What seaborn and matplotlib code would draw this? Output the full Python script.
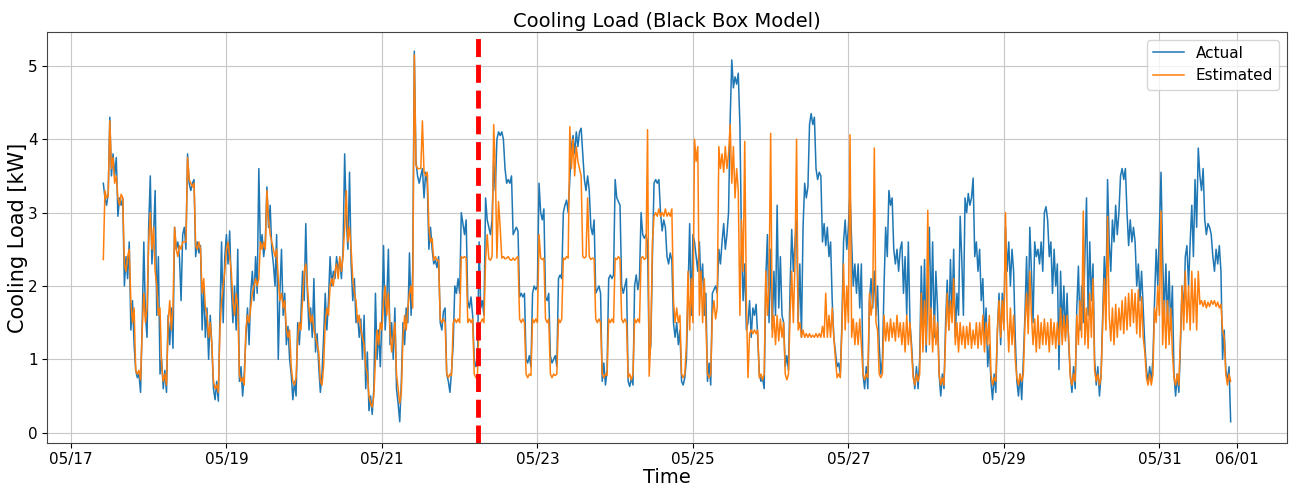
import pandas as pd
import matplotlib
matplotlib.use("Agg")
import matplotlib.pyplot as plt
import matplotlib.dates as mdates
import seaborn as sns

# ---- data (30-minute samples) ----
START = "2021-05-17 10:00"
STEP = "30min"
SPLIT_TIME = "2021-05-22 05:40"   # end of training period (red dashed line)

actual_0517 = [3.4, 3.2, 3.1, 3.25, 4.3, 3.5, 3.8, 3.5, 3.75, 2.95, 3.2, 3.1, 3.2,
               2.0, 2.4, 2.1, 2.6, 1.4, 1.8, 1.2, 0.85, 0.75, 0.8, 0.55, 1.5, 2.6, 1.6, 1.3,
               2.8, 3.5, 2.3, 2.7, 3.3, 1.6, 2.4, 0.8, 1.0, 0.6, 0.85, 0.55, 1.6, 1.2, 1.7,
               1.15, 2.8, 2.5, 2.6, 2.4, 1.8, 2.7, 2.8, 2.5, 3.8, 3.4, 3.3, 3.4, 3.45, 2.4,
               2.6, 2.45, 2.55, 1.4, 2.0, 1.3, 1.7, 1.0, 1.6, 1.2, 0.6, 0.45, 0.7, 0.43,
               1.6, 2.6, 1.5, 2.4, 2.7, 2.3, 2.75, 2.0, 1.5, 2.0, 1.4, 2.5, 0.7, 0.9, 0.5,
               0.8, 1.3, 1.7, 1.2, 1.9, 2.2, 1.8, 2.4, 1.9, 3.6]
estimated_0517 = [2.36, 3.3, 3.2, 3.22, 4.25, 3.6, 3.75, 3.4, 3.5, 3.2, 3.1, 3.25, 3.2,
                  2.3, 2.2, 2.4, 2.5, 1.8, 1.5, 1.7, 0.85, 0.8, 0.85, 0.72, 1.4, 1.9, 1.5,
                  1.7, 2.6, 3.0, 2.5, 2.8, 2.2, 2.0, 1.6, 1.7, 0.9, 0.7, 0.8, 0.65, 1.5, 1.8,
                  1.4, 1.7, 2.8, 2.5, 2.4, 2.55, 2.5, 2.6, 2.6, 2.6, 3.75, 3.45, 3.4, 3.35,
                  3.4, 2.55, 2.5, 2.6, 2.5, 1.9, 2.1, 1.7, 1.6, 1.3, 1.5, 1.2, 0.7, 0.6,
                  0.65, 0.55, 1.4, 1.8, 2.0, 2.2, 2.5, 2.6, 2.4, 2.2, 1.8, 1.6, 1.9, 1.7,
                  0.8, 0.7, 0.75, 0.65, 1.4, 1.6, 1.5, 1.7, 1.9, 2.0, 2.1, 2.0, 2.1]

actual_0519 = [2.5, 2.7, 2.4, 2.6, 3.35, 2.8, 3.1, 2.5, 2.3, 2.0,
               2.7, 1.0, 1.9, 2.5, 1.6, 1.9, 1.2, 1.45, 1.0, 0.8,
               0.45, 0.7, 0.5, 1.5, 1.2, 1.6, 2.2, 1.8, 2.85, 1.9,
               1.4, 1.7, 1.3, 2.1, 1.1, 1.35, 0.9, 0.55, 0.8, 1.3,
               1.9, 1.4, 1.8, 2.4, 2.0, 2.2, 2.1, 2.4, 2.2, 2.35,
               2.1, 2.5, 3.8, 2.9, 2.5, 3.55, 2.3, 1.8, 2.1, 1.5,
               1.6, 1.3, 1.55, 1.0, 1.6, 0.6, 1.1, 0.3, 0.5, 0.25,
               0.6, 1.9, 1.0, 1.4, 0.9, 1.6, 2.55, 1.4, 1.8, 2.5,
               1.2, 1.5, 1.0, 1.7, 0.6, 0.4, 0.15, 0.7, 1.5, 1.2,
               1.7, 1.5, 2.45, 1.6, 2.2, 5.2, 3.7, 3.5, 3.4]
estimated_0519 = [2.6, 2.5, 2.6, 2.5, 3.3, 2.9, 2.7, 2.6, 2.5, 2.4,
                  2.5, 2.1, 1.8, 1.9, 1.7, 1.8, 1.4, 1.3, 1.4, 0.9,
                  0.7, 0.65, 0.75, 1.3, 1.5, 1.4, 1.8, 2.2, 2.3, 2.0,
                  1.7, 1.5, 1.6, 1.4, 1.3, 1.2, 1.1, 0.7, 0.65, 0.9,
                  1.5, 1.7, 1.6, 2.0, 2.1, 2.0, 2.2, 2.3, 2.1, 2.4,
                  2.2, 2.4, 2.8, 3.3, 2.6, 2.8, 2.5, 2.1, 1.9, 1.8,
                  1.5, 1.6, 1.4, 1.3, 1.2, 0.9, 0.8, 0.5, 0.4, 0.35,
                  0.5, 1.0, 1.4, 1.2, 1.5, 1.4, 1.8, 2.0, 1.6, 1.9,
                  1.4, 1.1, 1.3, 1.5, 0.8, 0.6, 0.4, 0.55, 1.3, 1.6,
                  1.4, 1.7, 1.9, 2.0, 1.7, 5.15, 3.65, 3.6, 3.6]

actual_0521 = [3.5, 3.6, 3.2, 3.55, 3.4, 2.5, 2.8, 2.5, 2.3, 2.35,
               2.25, 2.4, 1.5, 1.4, 1.65, 1.7, 0.8, 0.7, 0.55, 0.85,
               1.2, 2.0, 1.9, 2.1, 1.9, 3.0, 2.85, 2.7, 2.9, 1.8,
               1.7, 1.85, 1.6, 1.0, 0.9, 0.95, 2.6, 1.7, 1.8, 1.6,
               3.2, 2.9, 2.8, 2.7, 2.9, 3.7, 3.3, 4.0, 4.1, 4.05,
               4.1, 4.0, 3.6, 3.4, 3.45, 3.4, 3.5, 2.7, 2.75, 2.8,
               2.75, 1.85, 1.9, 1.85, 1.9, 1.0, 0.95, 1.05, 0.9, 1.9,
               2.0, 1.95, 2.0, 3.4, 3.0, 2.9, 3.05, 1.85, 1.8, 1.9,
               1.05, 0.95, 1.0, 1.05, 0.9, 2.1, 2.15, 2.1, 3.0, 3.1,
               3.17, 3.0, 3.45, 3.9, 4.05, 3.8, 4.1, 3.9, 4.1]
estimated_0521 = [3.6, 4.25, 3.55, 3.5, 3.55, 2.8, 2.6, 2.65, 2.35, 2.4,
                  2.35, 2.35, 1.55, 1.5, 1.55, 1.5, 0.8, 0.75, 0.8, 0.78,
                  1.5, 1.55, 1.5, 1.55, 1.5, 2.4, 2.38, 2.4, 2.38, 1.5,
                  1.55, 1.5, 1.55, 0.8, 0.75, 0.8, 1.5, 1.5, 1.55, 1.5,
                  2.36, 2.7, 2.37, 2.35, 2.4, 4.2, 3.6, 2.38, 3.15, 2.8,
                  2.38, 2.4, 2.37, 2.38, 2.4, 2.36, 2.35, 2.38, 2.35, 2.38,
                  2.4, 1.55, 1.5, 1.55, 1.5, 0.8, 0.75, 0.8, 0.78, 1.55,
                  1.5, 1.55, 1.5, 2.7, 2.38, 2.36, 2.38, 1.55, 1.5, 1.55,
                  0.8, 0.75, 0.8, 0.78, 0.8, 1.55, 1.5, 1.55, 2.38, 2.36,
                  2.4, 2.38, 4.17, 3.6, 4.0, 3.5, 3.9, 3.7, 3.6]

actual_0523 = [4.15, 3.8, 3.45, 3.3, 3.5, 3.3, 2.8, 2.7, 2.9, 1.9,
               1.95, 2.0, 1.9, 0.7, 0.95, 0.65, 0.85, 2.1, 2.15, 2.1,
               2.15, 3.45, 3.2, 3.15, 3.1, 2.0, 1.9, 2.0, 2.1, 0.7,
               0.63, 0.75, 0.65, 2.0, 2.15, 1.95, 2.1, 3.0, 2.7, 2.65,
               2.7, 2.6, 1.0, 1.2, 2.4, 3.4, 3.45, 3.4, 3.45, 3.0,
               2.75, 2.9, 2.8, 2.4, 2.3, 2.45, 2.35, 1.5, 1.3, 1.5,
               1.2, 1.4, 0.7, 0.65, 0.75, 1.0, 1.9, 2.85, 1.6, 2.7,
               2.6, 2.4, 2.2, 2.6, 2.0, 2.3, 1.6, 1.9, 0.7, 0.95,
               0.65, 1.9, 1.95, 2.0, 1.9, 2.5, 2.3, 2.6, 2.85, 2.5,
               2.7, 3.0, 4.27, 5.08, 4.7, 4.85, 4.75, 4.9, 4.2]
estimated_0523 = [3.5, 2.4, 2.38, 2.4, 3.2, 2.4, 2.36, 2.38, 2.37, 1.55,
                  1.5, 1.55, 1.5, 0.8, 0.75, 0.8, 0.78, 1.55, 1.5, 1.55,
                  1.5, 2.38, 2.36, 2.4, 2.37, 1.55, 1.5, 1.55, 1.5, 0.75,
                  0.8, 0.72, 0.8, 1.55, 1.5, 1.55, 1.5, 2.38, 2.4, 2.36,
                  2.38, 4.13, 0.77, 1.27, 2.6, 2.95, 3.0, 2.95, 3.05, 2.95,
                  3.0, 2.95, 3.05, 2.95, 3.0, 2.95, 3.05, 1.8, 1.5, 1.7,
                  1.5, 1.6, 0.8, 0.75, 0.8, 1.2, 2.2, 1.4, 2.1, 1.5,
                  4.0, 3.7, 3.9, 1.6, 2.2, 1.5, 2.1, 1.5, 0.8, 0.75,
                  0.8, 1.6, 1.8, 1.55, 1.7, 3.9, 3.6, 3.8, 3.55, 3.9,
                  3.6, 3.8, 4.2, 3.4, 3.9, 3.2, 3.6, 3.3, 1.6]

actual_0525 = [2.6, 1.8, 2.3, 1.4, 1.5, 1.8, 1.3, 1.7, 1.6, 1.75,
               1.3, 0.8, 0.7, 0.75, 0.6, 2.1, 2.7, 1.5, 2.5, 1.4,
               2.2, 1.6, 3.1, 1.7, 2.4, 1.6, 1.5, 0.9, 1.05, 0.85,
               2.0, 2.77, 2.2, 2.6, 2.9, 1.5, 2.3, 1.3, 2.8, 3.4,
               3.2, 3.35, 4.2, 4.35, 4.2, 4.3, 3.6, 3.45, 3.55, 3.5,
               2.6, 2.85, 2.55, 2.8, 2.4, 2.6, 1.8, 1.3, 1.1, 0.9,
               0.95, 0.8, 1.5, 2.6, 2.9, 2.5, 2.8, 3.3, 2.6, 2.0,
               2.3, 1.9, 2.3, 1.7, 2.3, 0.8, 0.6, 0.9, 0.6, 1.8,
               2.1, 1.7, 2.2, 1.6, 2.0, 1.2, 0.8, 1.0, 2.0, 2.8,
               2.4, 3.3, 3.1, 3.2, 2.5, 2.3, 2.5, 2.2, 2.5]
estimated_0525 = [2.9, 2.2, 3.97, 1.8, 0.75, 1.35, 1.4, 1.35, 1.4, 1.35,
                  1.4, 0.75, 0.8, 0.72, 0.8, 2.2, 1.6, 2.0, 4.08, 1.3,
                  1.6, 1.2, 1.6, 1.25, 1.55, 1.3, 1.5, 0.8, 0.72, 0.8,
                  1.6, 2.2, 1.5, 2.3, 4.0, 1.4, 1.5, 1.3, 1.4, 1.3,
                  1.35, 1.3, 1.35, 1.3, 1.33, 1.3, 1.35, 1.3, 1.35, 1.3,
                  1.45, 1.3, 1.9, 1.3, 1.6, 1.3, 1.7, 1.3, 1.0, 0.75,
                  0.8, 0.75, 1.4, 2.3, 1.4, 2.0, 1.5, 4.06, 1.3, 1.55,
                  1.2, 1.5, 1.2, 1.55, 1.2, 0.8, 0.72, 0.8, 0.75, 1.9,
                  1.6, 1.8, 3.88, 1.5, 1.4, 0.8, 0.75, 0.8, 1.6, 1.25,
                  1.5, 1.25, 1.55, 1.3, 1.5, 1.25, 1.6, 1.3, 1.5]

actual_0527 = [2.6, 1.9, 2.4, 1.6, 2.6, 1.5, 1.2, 0.8, 0.6, 0.9,
               0.6, 1.0, 2.27, 1.4, 2.36, 1.1, 2.0, 2.8, 1.6, 2.6,
               1.3, 2.2, 1.7, 0.8, 0.5, 0.8, 0.6, 1.5, 2.08, 1.4,
               2.36, 1.6, 2.5, 1.3, 1.9, 1.6, 2.95, 2.36, 1.6, 3.2,
               3.0, 3.26, 3.1, 3.2, 3.47, 2.4, 2.6, 2.2, 2.5, 1.8,
               2.1, 1.3, 1.7, 0.9, 1.2, 0.7, 0.45, 0.8, 0.55, 1.4,
               1.9, 1.2, 1.9, 1.5, 2.8, 2.2, 2.6, 2.0, 2.5, 2.2,
               1.3, 0.7, 0.5, 0.8, 0.45, 1.0, 1.6, 2.4, 1.5, 2.8,
               2.2, 1.5, 2.6, 2.4, 2.5, 2.3, 2.6, 2.2, 3.0, 3.08,
               2.9, 2.4, 2.6, 1.9, 2.5, 2.0, 2.3, 0.86]
estimated_0527 = [1.2, 1.5, 1.1, 1.6, 1.2, 1.5, 1.1, 0.75, 0.65, 0.8,
                  0.7, 0.8, 1.9, 1.1, 1.8, 1.2, 3.03, 1.2, 1.7, 1.1,
                  1.6, 1.2, 1.5, 0.8, 0.65, 0.75, 0.65, 1.3, 1.9, 1.4,
                  1.8, 1.5, 2.1, 1.2, 1.5, 1.1, 1.5, 1.2, 1.45, 1.15,
                  1.45, 1.2, 1.5, 1.15, 1.4, 1.2, 1.5, 1.15, 1.5, 1.2,
                  1.6, 1.1, 1.5, 1.2, 1.6, 0.8, 0.65, 0.75, 0.7, 1.4,
                  1.8, 1.3, 1.8, 1.4, 3.0, 1.6, 1.1, 1.7, 1.2, 1.6,
                  1.0, 0.75, 0.65, 0.8, 0.7, 0.8, 1.5, 1.9, 1.35, 2.2,
                  1.6, 1.2, 1.55, 1.1, 1.6, 1.15, 1.5, 1.2, 1.55, 1.2,
                  1.5, 1.1, 1.55, 1.2, 1.5, 1.15, 1.5, 1.2]

actual_0529 = [2.2, 1.4, 2.0, 1.3, 1.9, 1.2, 0.8, 0.55, 0.9, 0.6,
               1.7, 2.27, 1.4, 2.0, 1.5, 2.4, 3.2, 1.6, 2.6, 1.8,
               2.3, 1.0, 0.65, 0.9, 0.5, 0.8, 1.6, 2.4, 1.8, 3.45,
               2.6, 2.2, 2.9, 2.6, 3.1, 2.7, 3.0, 3.5, 3.6, 3.45,
               3.6, 3.0, 2.55, 2.9, 2.6, 2.8, 2.6, 2.0, 2.3, 1.8,
               2.2, 1.7, 1.2, 0.86, 0.7, 0.9, 0.7, 1.0, 1.8, 2.5,
               2.0, 2.8, 3.55, 2.4, 1.6, 2.3, 1.5, 2.2, 1.4, 2.0,
               0.8, 0.5, 0.8, 0.55, 1.2, 2.0, 1.6, 2.4, 2.55, 2.0,
               2.6, 3.1, 2.4, 3.45, 2.8, 3.88, 3.5, 3.3, 3.6, 2.9,
               2.7, 2.85, 2.8, 2.7, 2.4, 2.2, 2.5, 2.3, 2.55, 2.2,
               1.0, 1.4, 0.86, 0.7, 0.9, 0.15]
estimated_0529 = [1.7, 1.2, 1.6, 1.25, 1.6, 1.3, 0.75, 0.65, 0.8, 0.7,
                  1.6, 1.2, 1.8, 1.3, 3.02, 1.2, 1.7, 1.15, 1.9, 1.3,
                  2.1, 0.85, 0.7, 0.8, 0.65, 0.75, 1.5, 2.1, 1.4, 2.95,
                  1.6, 1.25, 1.7, 1.2, 1.75, 1.3, 1.7, 1.4, 1.8, 1.35,
                  1.85, 1.4, 1.9, 1.45, 1.95, 1.5, 1.9, 1.35, 1.95, 1.3,
                  1.85, 1.3, 1.1, 0.75, 0.65, 0.8, 0.65, 0.8, 1.7, 1.5,
                  2.0, 1.6, 3.02, 1.2, 1.8, 1.15, 1.8, 1.2, 1.7, 1.1,
                  0.75, 0.65, 0.8, 0.65, 1.3, 2.0, 1.4, 2.2, 1.5, 2.0,
                  1.4, 2.2, 1.5, 2.1, 1.4, 2.2, 1.75, 1.8, 1.72, 1.8,
                  1.7, 1.78, 1.72, 1.8, 1.75, 1.8, 1.72, 1.78, 1.7, 1.75,
                  1.4, 1.3, 0.8, 0.65, 0.8, 0.7]

actual = (actual_0517 + actual_0519 + actual_0521 + actual_0523
          + actual_0525 + actual_0527 + actual_0529)
estimated = (estimated_0517 + estimated_0519 + estimated_0521 + estimated_0523
             + estimated_0525 + estimated_0527 + estimated_0529)

n = min(len(actual), len(estimated))
time = pd.date_range(START, periods=n, freq=STEP)
df = pd.DataFrame({"Time": time, "Actual": actual[:n], "Estimated": estimated[:n]})
long_df = df.melt(id_vars="Time", var_name="Series", value_name="Load")

# ---- figure ----
fig = plt.figure(figsize=(12.9, 4.86), dpi=100)
ax = fig.add_axes([0.0364, 0.0885, 0.9613, 0.8455])

sns.lineplot(data=long_df, x="Time", y="Load", hue="Series",
             hue_order=["Actual", "Estimated"],
             palette={"Actual": "#1f77b4", "Estimated": "#ff7f0e"},
             estimator=None, linewidth=1.1, ax=ax)

ax.axvline(pd.Timestamp(SPLIT_TIME), color="red", linestyle="--", linewidth=3.5)

ax.set_ylim(-0.14, 5.46)
ax.set_yticks([0, 1, 2, 3, 4, 5])
ax.xaxis.set_major_locator(mdates.DayLocator(bymonthday=range(1, 32, 2)))
ax.xaxis.set_major_formatter(mdates.DateFormatter("%m/%d"))
ax.tick_params(axis="both", labelsize=11, pad=3)
ax.grid(True, color="#c8c8c8", linewidth=0.8)
for s in ax.spines.values():
    s.set_color("#444444")

ax.set_title("Cooling Load (Black Box Model)", fontsize=14, pad=4)
ax.set_xlabel("Time", fontsize=14, labelpad=1)
ax.set_ylabel("Cooling Load [kW]", fontsize=15, labelpad=0)

handles, labels = ax.get_legend_handles_labels()
ax.legend(handles, labels, loc="upper right", fontsize=11)

fig.savefig("out.png", dpi=100)
